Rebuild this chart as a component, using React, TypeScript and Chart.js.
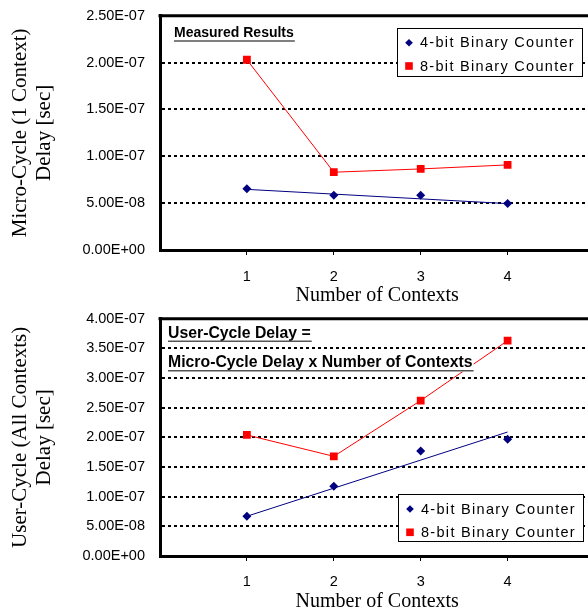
import { useEffect, useRef } from 'react';
import { Chart, registerables } from 'chart.js';

Chart.register(...registerables);

// ---- data ----
const contexts = [1, 2, 3, 4];
const xTickValues = [1, 2, 3, 4];
const xTickLabels = ['1', '2', '3', '4'];
const seriesNames = ['4-bit Binary Counter', '8-bit Binary Counter'];

const microDelay4bit = [6.53e-8, 5.83e-8, 5.83e-8, 4.95e-8];
const microDelay8bit = [2.03e-7, 8.3e-8, 8.65e-8, 9.08e-8];
const microTrend4bit = [6.47e-8, 4.95e-8];

const userDelay4bit = [6.7e-8, 1.175e-7, 1.77e-7, 1.97e-7];
const userDelay8bit = [2.04e-7, 1.68e-7, 2.62e-7, 3.63e-7];
const userTrend4bit = [6.7e-8, 2.09e-7];

const topYTickValues = [0, 5e-8, 1e-7, 1.5e-7, 2e-7, 2.5e-7];
const topYTickLabels = ['0.00E+00', '5.00E-08', '1.00E-07', '1.50E-07', '2.00E-07', '2.50E-07'];
const bottomYTickValues = [0, 5e-8, 1e-7, 1.5e-7, 2e-7, 2.5e-7, 3e-7, 3.5e-7, 4e-7];
const bottomYTickLabels = [
  '0.00E+00', '5.00E-08', '1.00E-07', '1.50E-07', '2.00E-07',
  '2.50E-07', '3.00E-07', '3.50E-07', '4.00E-07',
];

const xTitle = 'Number of Contexts';
const topYTitle = ['Micro-Cycle (1 Context)', 'Delay [sec]'];
const bottomYTitle = ['User-Cycle (All Contexts)', 'Delay [sec]'];
const topNotes = ['Measured Results'];
const bottomNotes = ['User-Cycle Delay =', 'Micro-Cycle Delay x Number of Contexts'];

// ---- styles ----
const BLUE = '#000080';
const RED = '#FF0000';
const SANS = '"Liberation Sans", Arial, sans-serif';
const SERIF = '"Liberation Serif", "Times New Roman", serif';

type NotePos = { text: string; x: number; y: number };
type DecorCfg = {
  offsetY: number;
  notes: NotePos[];
  noteFont: string;
  legend: { x: number; y: number; w: number; h: number; rows: number[] };
};

function makeDecor(cfg: DecorCfg) {
  return {
    id: 'decor',
    afterDraw(chart: any) {
      const ctx = chart.ctx as CanvasRenderingContext2D;
      const ca = chart.chartArea;
      const oy = cfg.offsetY;
      ctx.save();

      // notes
      ctx.font = cfg.noteFont;
      ctx.textBaseline = 'middle';
      ctx.textAlign = 'left';
      for (const n of cfg.notes) {
        const y = n.y - oy;
        const w = ctx.measureText(n.text).width;
        ctx.fillStyle = '#fff';
        ctx.fillRect(n.x - 1, y - 8, w + 2, 17);
        ctx.fillStyle = '#000';
        ctx.fillText(n.text, n.x, y);
        ctx.strokeStyle = '#555';
        ctx.lineWidth = 1.5;
        ctx.beginPath();
        ctx.moveTo(n.x, y + 8);
        ctx.lineTo(n.x + w + 1, y + 8);
        ctx.stroke();
      }

      // top border
      ctx.strokeStyle = '#000';
      ctx.lineWidth = 3;
      ctx.beginPath();
      ctx.moveTo(ca.left - 1.5, ca.top);
      ctx.lineTo(ca.right + 10, ca.top);
      ctx.stroke();

      // legend
      const L = cfg.legend;
      const ly = L.y - oy;
      ctx.fillStyle = '#fff';
      ctx.fillRect(L.x, ly, L.w, L.h);
      ctx.strokeStyle = '#000';
      ctx.lineWidth = 1;
      ctx.strokeRect(L.x + 0.5, ly + 0.5, L.w, L.h);
      ctx.font = '14.5px ' + SANS;
      (ctx as any).letterSpacing = '1.3px';
      ctx.textBaseline = 'middle';
      for (let i = 0; i < seriesNames.length; i++) {
        const cy = ly + L.rows[i];
        const mx = L.x + 12;
        if (i === 0) {
          ctx.fillStyle = BLUE;
          ctx.beginPath();
          ctx.moveTo(mx - 3.8, cy);
          ctx.lineTo(mx, cy - 3.8);
          ctx.lineTo(mx + 3.8, cy);
          ctx.lineTo(mx, cy + 3.8);
          ctx.closePath();
          ctx.fill();
        } else {
          ctx.fillStyle = RED;
          ctx.fillRect(mx - 3.8, cy - 3.8, 7.6, 7.6);
        }
        ctx.fillStyle = '#000';
        ctx.fillText(seriesNames[i], L.x + 23, cy + 0.5);
      }
      (ctx as any).letterSpacing = '0px';
      ctx.restore();
    },
  };
}

function buildConfig(opts: {
  blue: number[];
  red: number[];
  trend: number[];
  yTicks: number[];
  yLabels: string[];
  yMax: number;
  yTitle: string[];
  xLabelPad: number;
  decor: DecorCfg;
}) {
  const toPts = (arr: number[]) => contexts.map((c, i) => ({ x: c, y: arr[i] }));
  return {
    type: 'scatter' as const,
    data: {
      datasets: [
        {
          label: seriesNames[0],
          data: toPts(opts.blue),
          showLine: false,
          pointStyle: 'rectRot',
          pointRadius: 4.5,
          pointBackgroundColor: BLUE,
          pointBorderColor: BLUE,
          pointBorderWidth: 0,
          order: 1,
        },
        {
          label: 'trend',
          data: [
            { x: contexts[0], y: opts.trend[0] },
            { x: contexts[contexts.length - 1], y: opts.trend[1] },
          ],
          showLine: true,
          borderColor: BLUE,
          borderWidth: 1,
          pointRadius: 0,
          order: 3,
        },
        {
          label: seriesNames[1],
          data: toPts(opts.red),
          showLine: true,
          borderColor: RED,
          borderWidth: 1,
          pointStyle: 'rect',
          pointRadius: 5.5,
          pointBackgroundColor: RED,
          pointBorderColor: RED,
          pointBorderWidth: 0,
          order: 2,
        },
      ],
    },
    options: {
      animation: false,
      responsive: false,
      devicePixelRatio: 1,
      layout: { padding: { top: 0, right: 5, left: 0, bottom: 0 } },
      plugins: { legend: { display: false }, tooltip: { enabled: false } },
      scales: {
        x: {
          type: 'linear',
          min: 0,
          max: 5,
          afterBuildTicks: (axis: any) => {
            axis.ticks = xTickValues.map((v) => ({ value: v }));
          },
          afterFit: (s: any) => {
            s.height = 56;
          },
          ticks: {
            color: '#000',
            font: { family: SANS, size: 14.5 },
            padding: opts.xLabelPad,
            callback: (_v: any, i: number) => xTickLabels[i],
          },
          grid: {
            display: true,
            drawOnChartArea: false,
            drawTicks: true,
            tickLength: 5,
            color: '#000',
            lineWidth: 1,
          },
          border: { display: true, color: '#000', width: 3 },
          title: {
            display: true,
            text: xTitle,
            color: '#000',
            font: { family: SERIF, size: 20, lineHeight: 1 },
            padding: { top: 0, bottom: 0 },
          },
        },
        y: {
          type: 'linear',
          min: 0,
          max: opts.yMax,
          afterBuildTicks: (axis: any) => {
            axis.ticks = opts.yTicks.map((v) => ({ value: v }));
          },
          afterFit: (s: any) => {
            s.width = 160;
          },
          ticks: {
            color: '#000',
            font: { family: SANS, size: 14.5 },
            padding: 15,
            callback: (_v: any, i: number) => opts.yLabels[i],
          },
          grid: {
            display: true,
            drawTicks: false,
            color: '#000',
            lineWidth: 2,
          },
          border: { display: true, color: '#000', width: 3, dash: [3, 3] },
          title: {
            display: true,
            text: opts.yTitle,
            color: '#000',
            font: { family: SERIF, size: 21, lineHeight: 1.15 },
            padding: { top: 8, bottom: 0 },
          },
        },
      },
    },
    plugins: [makeDecor(opts.decor)],
  };
}

const TOP_Y = -8;
const BOTTOM_Y = 295;

export default function App() {
  const topRef = useRef<HTMLCanvasElement>(null);
  const bottomRef = useRef<HTMLCanvasElement>(null);

  useEffect(() => {
    const top = new Chart(
      topRef.current!,
      buildConfig({
        blue: microDelay4bit,
        red: microDelay8bit,
        trend: microTrend4bit,
        yTicks: topYTickValues,
        yLabels: topYTickLabels,
        yMax: 2.5e-7,
        yTitle: topYTitle,
        xLabelPad: 13,
        decor: {
          offsetY: TOP_Y,
          notes: [{ text: topNotes[0], x: 174, y: 33 }],
          noteFont: 'bold 14px "Liberation Sans", Arial, sans-serif',
          legend: { x: 397, y: 28, w: 185, h: 48, rows: [14.7, 38] },
        },
      }) as any
    );
    const bottom = new Chart(
      bottomRef.current!,
      buildConfig({
        blue: userDelay4bit,
        red: userDelay8bit,
        trend: userTrend4bit,
        yTicks: bottomYTickValues,
        yLabels: bottomYTickLabels,
        yMax: 4e-7,
        yTitle: bottomYTitle,
        xLabelPad: 12,
        decor: {
          offsetY: BOTTOM_Y,
          notes: [
            { text: bottomNotes[0], x: 168, y: 333.3 },
            { text: bottomNotes[1], x: 168, y: 362.7 },
          ],
          noteFont: 'bold 15.8px "Liberation Sans", Arial, sans-serif',
          legend: { x: 398, y: 494, w: 185, h: 47, rows: [15, 38.3] },
        },
      }) as any
    );
    return () => {
      top.destroy();
      bottom.destroy();
    };
  }, []);

  return (
    <div
      style={{
        position: 'fixed',
        left: 0,
        top: 0,
        width: 600,
        height: 612,
        background: '#fff',
        overflow: 'hidden',
      }}
    >
      <canvas
        ref={topRef}
        width={600}
        height={314}
        style={{ display: 'block', position: 'absolute', left: 0, top: TOP_Y }}
      />
      <canvas
        ref={bottomRef}
        width={600}
        height={317}
        style={{ display: 'block', position: 'absolute', left: 0, top: BOTTOM_Y }}
      />
    </div>
  );
}
